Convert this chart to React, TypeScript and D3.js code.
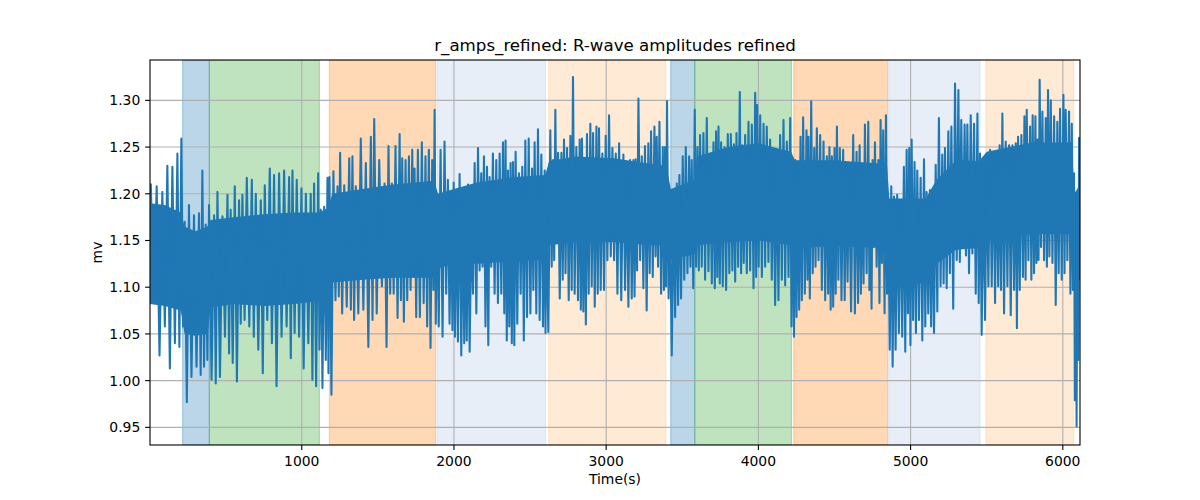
import React from 'react';
import * as d3 from 'd3';

// ---- data ----
const beatTimes = [
  8,47,84,117,150,183,209,231,259,292,325,347,369,391,424,446,479,512,533,560,588,610,639,672,698,731,757,790,818,851,884,917,939,967,998,1027,1059,1081,1108,1125,1147,1169,1182,1208,1235,1252,1279,1312,1333,1355,1388,1421,1454,1476,1509,
  1544,1570,1592,1616,1643,1660,1682,1704,1726,1741,1763,1789,1813,1835,1857,1873,1888,1912,1938,1960,1982,1998,2015,2037,2059,2076,2092,2114,2136,2158,2179,2197,2217,2234,2256,2278,2300,2322,2339,2355,2372,2388,2405,2427,2449,2469,2491,2513,2530,2552,2574,2596,2607,2633,2651,2666,2684,2706,2723,2743,2765,2782,2804,2826,2841,2859,2874,2896,2914,2936,2953,2975,2997,3019,3041,
  3063,3085,3113,3135,3157,3179,3194,3212,3234,3255,3277,3295,3317,3332,3350,3372,3387,3400,3420,3442,3464,3481,3503,3523,3545,3562,3582,3600,3617,3639,3661,3683,3705,3722,3738,3755,3777,3799,3819,3839,3856,3878,3895,3913,3935,3957,3979,3992,4012,4034,4055,4077,4099,4121,4143,4165,4187,4209,4226,4242,4259,4277,4294,4316,4329,4347,4367,4384,4406,4428,4450,4467,4483,4500,4516,4535,4557,4577,
  4595,4623,4645,4665,4682,4700,4722,4737,4750,4766,4788,4803,4820,4838,4853,4873,4891,4912,4934,4956,4974,4991,5007,5026,5044,5066,5088,5105,5127,5143,5165,5186,5208,5226,5248,5268,5292,5314,5333,5355,5373,5395,5417,5439,5456,5478,5500,5522,5544,5566,5585,5603,5625,5647,5669,5691,5706,5728,5748,5763,5785,5802,5820,5833,5848,5866,5888,5903,5921,5943,5964,5982,6004,6019,6041,6059,6074,6085,6096,6107,
];

// local peaks of the R-wave amplitude trace (mV)
const peakMv = [
  1.211,1.208,1.202,1.230,1.229,1.243,1.259,1.170,1.188,1.177,1.179,1.225,1.167,1.188,1.177,1.202,1.176,1.199,1.183,1.208,1.193,1.199,1.217,1.215,1.200,1.193,1.209,1.227,1.220,1.222,1.225,1.218,1.225,1.215,1.206,1.200,1.200,1.211,1.222,1.183,1.186,1.217,1.218,1.224,1.208,1.244,1.209,1.238,1.240,1.208,1.259,1.233,1.261,1.280,1.236,
  1.211,1.251,1.211,1.251,1.264,1.238,1.236,1.240,1.247,1.227,
  1.247,1.255,1.240,1.247,1.236,1.290,1.200,1.247,1.256,1.215,
  1.188,1.212,1.200,1.221,1.186,1.183,1.210,1.168,1.233,1.249,
  1.222,1.240,1.229,1.218,1.243,1.236,1.243,1.255,1.257,1.225,
  1.233,1.234,1.245,1.222,1.229,1.257,1.259,1.227,1.255,1.269,
  1.242,1.225,1.183,1.268,1.236,1.290,1.244,1.244,1.258,1.249,
  1.262,1.325,1.250,1.258,1.259,1.236,1.264,1.275,1.265,1.272,
  1.270,1.243,1.262,1.284,1.249,
  1.243,1.254,1.242,1.218,1.236,1.236,1.237,1.302,1.240,1.251,
  1.254,1.267,1.272,1.261,1.277,1.250,1.250,1.299,1.172,1.190,
  1.211,1.220,1.240,1.250,1.240,1.236,1.290,1.250,1.263,1.265,
  1.281,1.243,1.255,1.267,1.272,1.255,1.250,1.264,1.264,1.253,
  1.265,1.309,1.252,1.263,1.277,1.274,1.308,1.295,1.284,1.275,
  1.272,1.258,1.233,1.229,1.263,1.279,1.256,1.281,1.236,1.236,
  1.225,1.261,1.282,1.268,1.261,1.299,1.249,1.270,1.263,1.256,
  1.240,1.250,1.240,1.249,1.272,1.249,1.247,1.233,
  1.233,1.263,1.245,1.252,1.231,1.274,1.277,1.222,1.236,1.255,
  1.236,1.279,1.268,1.284,1.193,1.208,1.197,1.199,1.192,1.229,
  1.247,1.249,1.258,1.234,1.225,1.217,1.237,1.202,1.204,1.202,
  1.231,1.281,1.242,1.249,1.267,1.272,1.318,1.311,1.279,1.274,
  1.274,1.284,1.275,1.286,1.243,1.211,1.230,1.247,1.240,1.240,
  1.252,1.286,1.256,1.252,1.252,1.254,1.261,1.263,1.283,1.290,
  1.272,1.284,1.283,1.258,1.322,1.288,1.281,1.311,1.300,1.283,
  1.277,1.291,1.306,1.290,1.288,1.275,1.222,1.165,1.193,1.260,
];

// local troughs of the trace (mV)
const troughMv = [
  1.086,1.027,1.058,1.013,1.040,1.036,1.058,0.977,1.004,1.015,1.006,1.015,1.022,1.001,0.997,1.004,1.047,1.029,1.019,0.999,1.061,1.065,1.058,1.047,1.033,1.008,1.065,1.040,0.994,1.047,1.058,1.024,1.051,1.047,1.013,1.040,1.001,0.994,1.033,0.992,1.022,1.008,0.985,1.086,1.090,1.072,1.079,1.076,1.065,1.072,1.076,1.036,1.065,1.072,1.101,
  1.036,1.093,1.093,1.067,1.086,1.063,1.086,1.097,1.111,1.068,
  1.068,1.083,1.058,1.035,1.097,1.061,1.058,1.047,1.093,1.061,
  1.054,1.047,1.042,1.027,1.040,1.043,1.031,1.093,1.072,1.118,
  1.122,1.058,1.038,1.122,1.093,1.083,1.093,1.072,1.043,1.058,
  1.040,1.038,1.061,1.093,1.043,1.068,1.072,1.097,1.072,1.065,
  1.058,1.051,1.052,1.122,1.129,1.151,1.088,1.108,1.115,1.086,
  1.097,1.093,1.086,1.076,1.074,1.060,1.093,1.101,1.079,1.093,
  1.097,1.097,1.129,1.133,1.129,
  1.093,1.086,1.097,1.079,1.088,1.090,1.118,1.129,1.099,1.075,
  1.115,1.111,1.133,1.122,1.093,1.097,1.101,1.088,1.027,1.068,
  1.081,1.088,1.108,1.115,1.122,1.099,1.122,1.118,1.122,1.108,
  1.117,1.104,1.099,1.111,1.104,1.101,1.097,1.115,1.118,1.106,
  1.122,1.115,1.126,1.115,1.118,1.099,1.111,1.122,1.111,1.122,
  1.127,1.108,1.081,1.086,1.108,1.102,1.111,1.058,1.047,1.068,
  1.076,1.086,1.093,1.108,1.088,1.115,1.122,1.129,1.097,1.086,
  1.093,1.076,1.079,1.093,1.108,1.086,1.086,1.106,
  1.074,1.072,1.083,1.093,1.104,1.115,1.097,1.077,1.143,1.122,
  1.083,1.126,1.072,1.093,1.033,1.015,1.033,1.051,1.047,1.031,
  1.072,1.038,1.065,1.051,1.065,1.043,1.058,1.072,1.058,1.051,
  1.074,1.101,1.104,1.099,1.115,1.077,1.129,1.127,1.147,1.134,
  1.115,1.136,1.093,1.083,1.049,1.065,1.101,1.101,1.083,1.101,
  1.097,1.072,1.101,1.070,1.097,1.056,1.097,1.111,1.108,1.129,
  1.108,1.115,1.126,1.129,1.143,1.129,1.122,1.133,1.126,1.081,
  1.115,1.108,1.115,1.129,1.093,1.097,0.979,0.951,1.022,1.108,
];

// dense core of the trace (where the beats overlap into a solid band)
const coreTimes = [0,100,205,230,300,380,400,550,750,950,1110,1175,1200,1400,1600,1870,1895,2000,2150,2400,2600,2625,2800,3050,3300,3395,3425,3580,3600,3800,4000,4215,4240,4500,4845,4860,5100,5170,5300,5450,5500,5800,6060,6075,6113];
const coreUpperMv = [1.190,1.188,1.180,1.165,1.160,1.165,1.172,1.175,1.178,1.180,1.180,1.185,1.200,1.205,1.210,1.214,1.200,1.205,1.212,1.218,1.220,1.235,1.240,1.238,1.232,1.230,1.205,1.215,1.240,1.250,1.254,1.245,1.236,1.236,1.232,1.195,1.195,1.215,1.236,1.235,1.245,1.255,1.255,1.200,1.210];
const coreLowerMv = [1.082,1.080,1.075,1.050,1.048,1.050,1.078,1.082,1.080,1.082,1.085,1.090,1.105,1.108,1.110,1.110,1.120,1.125,1.125,1.128,1.130,1.145,1.148,1.148,1.145,1.145,1.130,1.135,1.145,1.148,1.150,1.145,1.142,1.144,1.142,1.100,1.105,1.125,1.140,1.142,1.150,1.157,1.157,1.100,1.115];

// shaded phases (seconds) and their kind
const spanStart = [217, 393, 1182, 1890, 2622, 3424, 3582, 4233, 4857, 5495];
const spanEnd = [393, 1116, 1879, 2602, 3391, 3582, 4218, 4849, 5456, 6072];
const spanKind = [0, 1, 2, 3, 4, 0, 1, 2, 3, 4];

const xTicks = [1000, 2000, 3000, 4000, 5000, 6000];
const yTicks = [0.95, 1.0, 1.05, 1.1, 1.15, 1.2, 1.25, 1.3];
const xDomain = [3, 6113];
const yDomain = [0.9311, 1.3432];

const TITLE = 'r_amps_refined: R-wave amplitudes refined';
const X_LABEL = 'Time(s)';
const Y_LABEL = 'mv';

// ---- styling ----
const W = 1200;
const H = 500;
const M = { left: 150, right: 120, top: 60, bottom: 55 };
const KIND_COLORS = ['#1f77b4', '#2ca02c', '#ff7f0e', '#aec7e8', '#ffbb78'];
const LINE_COLOR = '#1f77b4';
const FONT = '"DejaVu Sans", "Liberation Sans", sans-serif';

export default function App() {
  const x = d3.scaleLinear().domain(xDomain).range([M.left, W - M.right]);
  const y = d3.scaleLinear().domain(yDomain).range([H - M.bottom, M.top]);

  const n = Math.min(beatTimes.length, peakMv.length, troughMv.length);
  const pts: [number, number][] = [];
  for (let i = 0; i < n; i++) {
    const t = beatTimes[i];
    const next = i + 1 < n ? beatTimes[i + 1] : t + 8;
    pts.push([t, peakMv[i]]);
    pts.push([t + (next - t) / 2, troughMv[i]]);
  }
  const line = d3
    .line<[number, number]>()
    .x((d) => x(d[0]))
    .y((d) => y(d[1]));

  const nc = Math.min(coreTimes.length, coreUpperMv.length, coreLowerMv.length);
  const core = d3.range(nc);
  const area = d3
    .area<number>()
    .x((i) => x(coreTimes[i]))
    .y0((i) => y(coreLowerMv[i]))
    .y1((i) => y(coreUpperMv[i]));

  const x0 = M.left;
  const x1 = W - M.right;
  const y0 = M.top;
  const y1 = H - M.bottom;

  return (
    <svg
      width={W}
      height={H}
      viewBox={`0 0 ${W} ${H}`}
      style={{ position: 'absolute', left: 0, top: 0, background: '#fff' }}
      fontFamily={FONT}
    >
      <defs>
        <clipPath id="plot-clip">
          <rect x={x0} y={y0} width={x1 - x0} height={y1 - y0} />
        </clipPath>
      </defs>
      <rect x={0} y={0} width={W} height={H} fill="#fff" />

      <g clipPath="url(#plot-clip)">
        {spanStart.map((s, i) => (
          <rect
            key={`span-${i}`}
            x={x(s)}
            y={y0}
            width={x(spanEnd[i]) - x(s)}
            height={y1 - y0}
            fill={KIND_COLORS[spanKind[i]]}
            fillOpacity={0.3}
            stroke={KIND_COLORS[spanKind[i]]}
            strokeOpacity={0.3}
            strokeWidth={1.2}
          />
        ))}

        {xTicks.map((t) => (
          <line key={`gx-${t}`} x1={x(t)} x2={x(t)} y1={y0} y2={y1} stroke="#b0b0b0" strokeWidth={1.1} />
        ))}
        {yTicks.map((t) => (
          <line key={`gy-${t}`} x1={x0} x2={x1} y1={y(t)} y2={y(t)} stroke="#b0b0b0" strokeWidth={1.1} />
        ))}

        <path d={area(core) || ''} fill={LINE_COLOR} stroke="none" />
        <path
          d={line(pts) || ''}
          fill="none"
          stroke={LINE_COLOR}
          strokeWidth={2.08}
          strokeLinejoin="round"
        />
      </g>

      {/* spines */}
      <rect x={x0} y={y0} width={x1 - x0} height={y1 - y0} fill="none" stroke="#000" strokeWidth={1.1} />

      {/* x ticks */}
      {xTicks.map((t) => (
        <g key={`xt-${t}`}>
          <line x1={x(t)} x2={x(t)} y1={y1} y2={y1 + 4.9} stroke="#000" strokeWidth={1.1} />
          <text x={x(t)} y={466} textAnchor="middle" fontSize={13.9} fill="#000">
            {String(t)}
          </text>
        </g>
      ))}

      {/* y ticks */}
      {yTicks.map((t) => (
        <g key={`yt-${t}`}>
          <line x1={x0 - 4.9} x2={x0} y1={y(t)} y2={y(t)} stroke="#000" strokeWidth={1.1} />
          <text x={140.3} y={y(t)} dy="0.36em" textAnchor="end" fontSize={13.9} fill="#000">
            {t.toFixed(2)}
          </text>
        </g>
      ))}

      <text x={(x0 + x1) / 2} y={484} textAnchor="middle" fontSize={13.9} fill="#000">
        {X_LABEL}
      </text>
      <text
        transform={`translate(101.5, ${(y0 + y1) / 2}) rotate(-90)`}
        textAnchor="middle"
        fontSize={13.9}
        fill="#000"
      >
        {Y_LABEL}
      </text>
      <text x={(x0 + x1) / 2} y={51} textAnchor="middle" fontSize={16.67} fill="#000">
        {TITLE}
      </text>
    </svg>
  );
}
